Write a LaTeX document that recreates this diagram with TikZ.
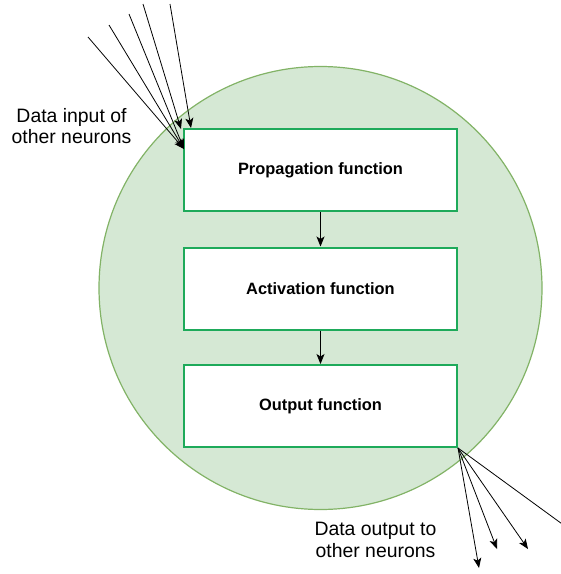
\documentclass[tikz,border=0pt]{standalone}
\usepackage{fontspec}
\setmainfont{Liberation Sans}
\usetikzlibrary{arrows.meta}
\definecolor{cellfill}{HTML}{D5E8D4}
\definecolor{cellline}{HTML}{82B366}
\definecolor{boxline}{RGB}{30,170,90}
\tikzset{
  stagebox/.style={draw=boxline, line width=2pt, fill=white, minimum width=273pt,
    minimum height=82pt, inner sep=0pt, font=\fontsize{16.4}{19}\selectfont\bfseries},
  link/.style={draw=black, line width=0.8pt,
    -{Stealth[length=10pt,width=8pt,inset=2.5pt]}},
  note/.style={align=center, font=\fontsize{19.4}{21.5}\selectfont}
}
\begin{document}
\begin{tikzpicture}[x=1pt,y=-1pt]
\useasboundingbox (0,0) rectangle (561,574);
\clip (0,0) rectangle (561,574);
% neuron body
\fill[cellfill, draw=cellline, line width=1.2pt] (320.5,288) circle (221.5);
% processing stages
\node[stagebox] (prop) at (320.5,170) {Propagation function};
\node[stagebox] (act)  at (320.5,288.5) {Activation function};
\node[stagebox] (outf) at (320.5,406) {Output function};
\draw[link] (prop.south) -- (act.north);
\draw[link] (act.south) -- (outf.north);
% incoming signals
\coordinate (i1) at (88,37);
\coordinate (i2) at (109,25);
\coordinate (i3) at (129,14);
\coordinate (i4) at (143,4);
\coordinate (i5) at (170,4);
\coordinate (t1) at (184,149);
\coordinate (t2) at (181,129);
\coordinate (t3) at (191,128);
\draw[link] (i1) -- (t1);
\draw[link] (i2) -- (t1);
\draw[link] (i3) -- (t1);
\draw[link] (i4) -- (t2);
\draw[link] (i5) -- (t3);
% outgoing signals
\coordinate (o1) at (479,568);
\coordinate (o2) at (497,549);
\coordinate (o3) at (528,549);
\coordinate (o4) at (580,537);
\draw[link] (outf.south east) -- (o1);
\draw[link] (outf.south east) -- (o2);
\draw[link] (outf.south east) -- (o3);
\draw[link] (outf.south east) -- (o4);
% captions
\node[note] (inlabel) at (71.5,126) {Data input of\\other neurons};
\node[note] (outlabel) at (375.5,540) {Data output to\\other neurons};
\end{tikzpicture}
\end{document}
